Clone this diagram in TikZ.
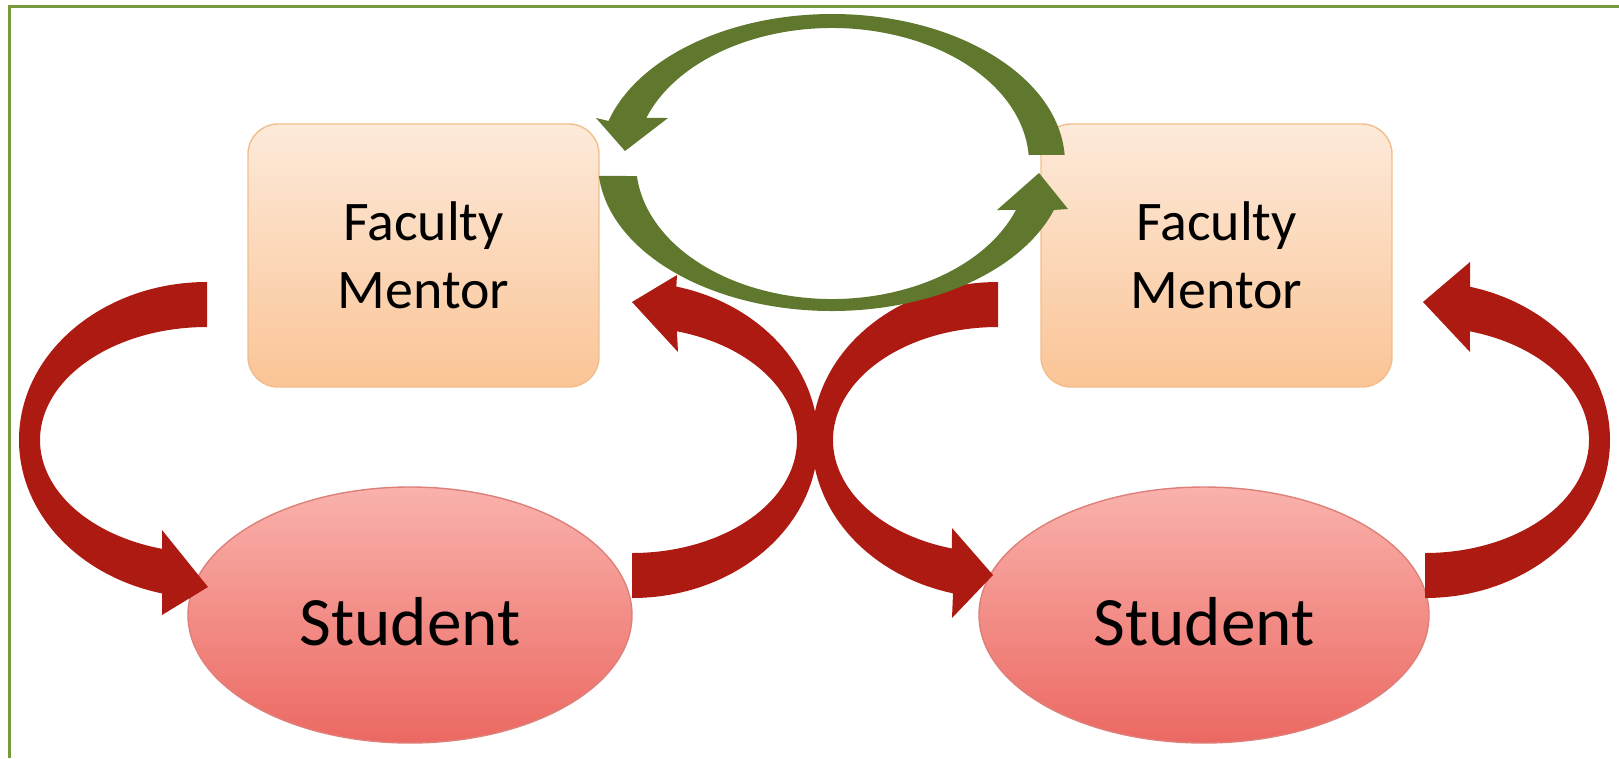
\documentclass[tikz,border=0pt]{standalone}
\usepackage{fontspec}
\setmainfont{Carlito}
\usetikzlibrary{shapes.geometric}
\usetikzlibrary{calc}
\definecolor{mentortop}{RGB}{253,234,218}
\definecolor{mentorbot}{RGB}{250,196,150}
\definecolor{mentorline}{RGB}{242,190,140}
\definecolor{studenttop}{RGB}{250,178,172}
\definecolor{studentbot}{RGB}{236,104,98}
\definecolor{studentline}{RGB}{222,128,122}
\definecolor{loopred}{RGB}{172,26,18}
\definecolor{loopgreen}{RGB}{95,120,46}
\definecolor{framegreen}{RGB}{119,155,60}

\begin{document}
\begin{tikzpicture}[mentor/.style={draw=mentorline,rounded corners=0.3cm,top color=mentortop,bottom color=mentorbot,
    minimum width=3.51cm,minimum height=2.63cm,inner sep=0pt,align=center,font={\fontsize{15.9}{19.3}\selectfont}},
  student/.style={ellipse,draw=studentline,top color=studenttop,bottom color=studentbot,
    minimum width=4.44cm,minimum height=2.56cm,inner sep=0pt,text height=0.6cm,text depth=0cm,
    font={\fontsize{19.7}{23}\selectfont}},
  redarrow/.style={fill=loopred},
  greenarrow/.style={fill=loopgreen}]
  \useasboundingbox (0,0) rectangle (16.19,7.58);
  \draw[framegreen,line width=0.03cm] (0.095,0)--(0.095,7.515)--(16.19,7.515);

  \node[mentor] (fm1) at (4.235,5.025) {Faculty\\Mentor};
  \node[mentor] (fm2) at (12.165,5.025) {Faculty\\Mentor};
  \node[student] (st1) at (4.10,1.43) {Student};
  \node[student,minimum width=4.50cm] (st2) at (12.04,1.43) {Student};

  \coordinate (a1) at (2.07,3.18);
  \coordinate (a2) at (6.32,3.18);
  \coordinate (a3) at (9.98,3.18);
  \coordinate (a4) at (14.25,3.18);
  \coordinate (g) at (8.32,5.95);

  % mentor to student, student to mentor
  \fill[redarrow,shift={(a1)}] (90:1.88 and 1.58) arc[start angle=90,end angle=256.2,x radius=1.88,y radius=1.58]
    --(-0.45,-1.75)--(0.01,-1.47)--(-0.45,-0.90)
    --(254.4:1.67 and 1.13) arc[start angle=254.4,end angle=90,x radius=1.67,y radius=1.13]--cycle;
  \fill[redarrow,shift={(a2)}] (270:1.86 and 1.58) arc[start angle=270,end angle=436.2,x radius=1.86,y radius=1.58]
    --(0.45,1.65)--(0,1.38)--(0.46,0.88)
    --(434.2:1.65 and 1.13) arc[start angle=434.2,end angle=270,x radius=1.65,y radius=1.13]--cycle;
  \fill[redarrow,shift={(a3)}] (90:1.86 and 1.58) arc[start angle=90,end angle=256,x radius=1.86,y radius=1.58]
    --(-0.46,-1.78)--(-0.05,-1.35)--(-0.46,-0.88)
    --(253.8:1.65 and 1.13) arc[start angle=253.8,end angle=90,x radius=1.65,y radius=1.13]--cycle;
  \fill[redarrow,shift={(a4)}] (270:1.85 and 1.58) arc[start angle=270,end angle=435.9,x radius=1.85,y radius=1.58]
    --(0.45,1.78)--(-0.02,1.38)--(0.45,0.88)
    --(434.1:1.64 and 1.13) arc[start angle=434.1,end angle=270,x radius=1.64,y radius=1.13]--cycle;

  % mentor to mentor
  \fill[greenarrow,shift={(g)}] (3.1:2.33 and 1.49) arc[start angle=3.1,end angle=163.6,x radius=2.33,y radius=1.49]
    --(-2.36,0.45)--(-2.07,0.12)--(-1.64,0.45)
    --(160.5:1.97 and 1.35) arc[start angle=160.5,end angle=3.4,x radius=1.97,y radius=1.35]--cycle;
  \fill[greenarrow,shift={(g)}] (185:2.34 and 1.48) arc[start angle=185,end angle=341.5,x radius=2.34,y radius=1.48]
    --(2.36,-0.46)--(2.07,-0.10)--(1.65,-0.47)
    --(339.8:1.96 and 1.36) arc[start angle=339.8,end angle=185.5,x radius=1.96,y radius=1.36]--cycle;
\end{tikzpicture}
\end{document}
